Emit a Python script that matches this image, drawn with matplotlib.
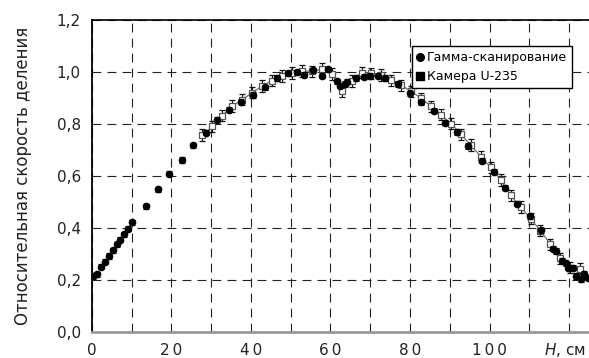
import numpy as np
import matplotlib
matplotlib.use('Agg')
import matplotlib.pyplot as plt
from matplotlib.lines import Line2D

# Гамма-сканирование
h_gamma = [0.3, 1.3, 2.2, 3.2, 4.4, 5.3, 6.4, 7.1, 8.2, 9.1, 10.2, 13.5, 16.5,
           19.4, 22.6, 25.5, 28.6, 31.4, 34.5, 37.5, 40.5, 43.5, 46.5, 49.3,
           51.5, 53.4, 55.7, 57.9, 59.3, 61.6, 62.3, 63.7, 64.2, 66.3, 68.3,
           70.0, 71.9, 73.8, 76.9, 80.0, 82.8, 86.0, 88.9, 91.9, 94.6, 98.2,
           101.0, 104.0, 107.0, 110.2, 113.0, 116.0, 116.6, 118.3, 119.1,
           119.7, 121.0, 121.7, 122.9, 123.8, 124.7]
f_gamma = [0.214, 0.223, 0.252, 0.271, 0.293, 0.315, 0.338, 0.356, 0.376,
           0.398, 0.422, 0.483, 0.549, 0.608, 0.661, 0.718, 0.766, 0.816,
           0.854, 0.885, 0.911, 0.940, 0.976, 0.994, 0.998, 0.989, 1.006,
           0.985, 1.010, 0.963, 0.947, 0.953, 0.962, 0.975, 0.981, 0.985,
           0.985, 0.976, 0.953, 0.917, 0.883, 0.851, 0.805, 0.769, 0.715,
           0.659, 0.616, 0.555, 0.494, 0.445, 0.392, 0.320, 0.312, 0.274,
           0.265, 0.248, 0.248, 0.216, 0.204, 0.225, 0.210]
err_gamma = 0.01

# Камера U-235
h_cam = [27.8, 30.3, 32.8, 35.3, 37.8, 40.3, 42.8, 45.3, 47.8, 50.3, 52.8,
         55.3, 57.8, 60.3, 62.8, 65.3, 67.8, 70.3, 72.8, 75.3, 77.8, 80.3,
         82.8, 85.3, 87.8, 90.3, 92.8, 95.3, 97.8, 100.3, 102.8, 105.3,
         107.8, 110.3, 112.8, 115.3, 117.8, 120.3, 122.8]
f_cam = [0.757, 0.790, 0.832, 0.868, 0.893, 0.920, 0.945, 0.966, 0.984,
         0.996, 1.003, 1.002, 1.010, 0.992, 0.926, 0.965, 0.997, 0.994,
         0.987, 0.967, 0.948, 0.925, 0.898, 0.867, 0.835, 0.801, 0.760,
         0.718, 0.674, 0.633, 0.585, 0.525, 0.481, 0.436, 0.390, 0.337,
         0.284, 0.248, 0.244]
err_cam = 0.022

xticks = [0, 20, 40, 60, 80, 100]
yticks = [0.0, 0.2, 0.4, 0.6, 0.8, 1.0, 1.2]

plt.rcParams['font.family'] = ['DejaVu Sans']

fig = plt.figure(figsize=(5.89, 3.58), dpi=100)
ax = fig.add_axes([0.156, 0.072, 0.844, 0.873])

ax.errorbar(h_cam, f_cam, yerr=err_cam, fmt='s-', color='#666666', lw=0.8,
            ms=5, mfc='white', mec='#555555', mew=0.9, ecolor='#111111',
            elinewidth=0.8, capsize=2.5, capthick=0.8, zorder=3)
ax.errorbar(h_gamma, f_gamma, yerr=err_gamma, fmt='o', color='black', ms=4.5,
            ecolor='black', elinewidth=0.8, capsize=2.5, capthick=0.8, zorder=4)

ax.set_xlim(0, 125)
ax.set_ylim(0, 1.2)
ax.set_xticks(xticks)
ax.set_xticklabels(['\u2009'.join(str(v)) for v in xticks])
ax.set_yticks(yticks)
ax.set_yticklabels([('%.1f' % v).replace('.', ',') for v in yticks])
ax.set_xticks(np.arange(10, 121, 10), minor=True)
ax.tick_params(which='both', length=0, labelsize=11, colors='#222222', pad=8)
ax.grid(True, which='both', color='#222222', ls=(0, (8, 5.5)), lw=0.8)

ax.spines['right'].set_visible(False)
ax.spines['bottom'].set_color('#999999')
ax.spines['bottom'].set_linewidth(2)
ax.spines['left'].set_linewidth(1.3)
ax.spines['top'].set_linewidth(1.2)

ax.set_ylabel('Относительная скорость деления', fontsize=12, color='#222222',
              labelpad=18)
ax.text(119, -0.068, '$\\it{H}$, см', ha='center', va='center', fontsize=11,
        color='#222222')

handles = [Line2D([], [], ls='none', marker='o', color='black', ms=5.5),
           Line2D([], [], ls='none', marker='s', color='black', ms=5.5)]
leg = ax.legend(handles, ['Гамма-сканирование', 'Камера U-235'],
                loc='upper left', bbox_to_anchor=(0.643, 0.915), fontsize=9,
                handlelength=0.6, handletextpad=0.2, borderpad=0.4,
                labelspacing=0.45, fancybox=False, framealpha=1, borderaxespad=0)
leg.get_frame().set_edgecolor('black')
leg.get_frame().set_linewidth(1.0)

fig.savefig('out.png', dpi=100)
